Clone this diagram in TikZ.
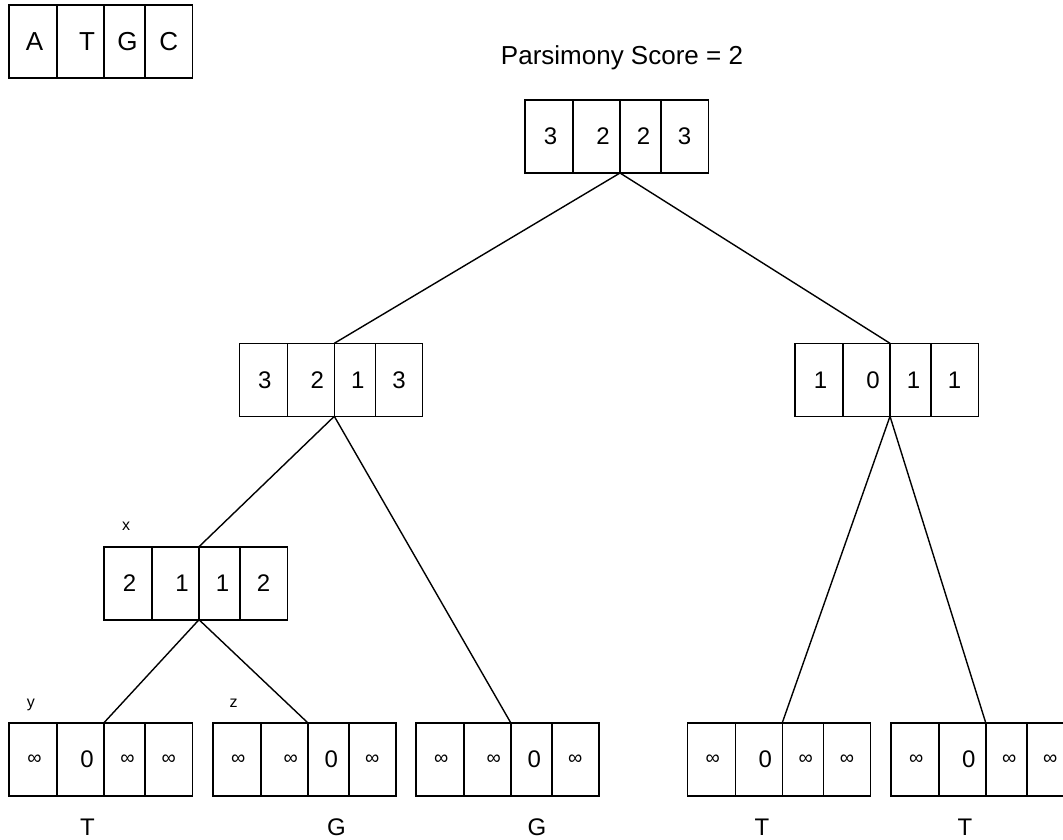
\documentclass[tikz,border=0pt]{standalone}
\usepackage{fontspec}
\setmainfont{Liberation Sans}
\newcommand\infsym{{\fontsize{20}{20}\selectfont ∞}}
\newcommand\bigtxt{\fontsize{26}{30}\selectfont}
\tikzset{
  cellbox/.style={draw, line width=1.6pt, minimum height=73pt, inner sep=0pt, outer sep=0pt, anchor=north west},
  cellnum/.style={font=\fontsize{24}{28}\selectfont, inner sep=0pt},
  conn/.style={line width=1.4pt},
  smalllbl/.style={font=\fontsize{16}{18}\selectfont, anchor=base, inner sep=0pt},
  leaflbl/.style={font=\fontsize{24}{28}\selectfont, anchor=base, inner sep=0pt}
}
% name, x, y, t1..t4
\newcommand\arr[7]{%
  \node[cellbox, minimum width=48pt, label={[cellnum,xshift=1.5pt]center:#4}] (#1-1) at (#2,#3) {};
  \node[cellbox, minimum width=47pt, label={[cellnum,xshift=6.5pt]center:#5}] (#1-2) at (#1-1.north east) {};
  \node[cellbox, minimum width=41pt, label={[cellnum,xshift=3pt]center:#6}] (#1-3) at (#1-2.north east) {};
  \node[cellbox, minimum width=47.3pt, label={[cellnum,xshift=0pt]center:#7}] (#1-4) at (#1-3.north east) {};
}
\begin{document}
\begin{tikzpicture}[x=1pt,y=-1pt]
\useasboundingbox (0,0) rectangle (1063,839);
% legend
\arr{lg}{9}{5}{\bigtxt A}{\bigtxt T}{\bigtxt G}{\bigtxt C}
\node[font=\bigtxt, anchor=base, inner sep=0pt] (title) at (622,64) {Parsimony Score = 2};
% tree
\arr{r}{525}{100}{3}{2}{2}{3}
\arr{ml}{239.3}{343.3}{3}{2}{1}{3}
\arr{mr}{795}{343.3}{1}{0}{1}{1}
\arr{x}{104}{546.7}{2}{1}{1}{2}
\arr{la}{9}{722.7}{\infsym}{0}{\infsym}{\infsym}
\arr{lb}{212.7}{722.7}{\infsym}{\infsym}{0}{\infsym}
\arr{lc}{415.7}{722.7}{\infsym}{\infsym}{0}{\infsym}
\arr{ld}{687.3}{722.7}{\infsym}{0}{\infsym}{\infsym}
\arr{le}{890.7}{722.7}{\infsym}{0}{\infsym}{\infsym}
% small labels
\node[smalllbl] (lx) at (126,530.7) {x};
\node[smalllbl] (ly) at (31,707) {y};
\node[smalllbl] (lz) at (233.5,707) {z};
% leaf labels
\node[leaflbl] (ta) at (87.5,835) {T};
\node[leaflbl] (tb) at (336.5,835) {G};
\node[leaflbl] (tc) at (537,835) {G};
\node[leaflbl] (td) at (762,835) {T};
\node[leaflbl] (te) at (965,835) {T};
% connectors
\draw[conn] (r-2.south east) -- (ml-2.north east);
\draw[conn] (r-2.south east) -- (mr-2.north east);
\draw[conn] (ml-2.south east) -- (x-2.north east);
\draw[conn] (ml-2.south east) -- (lc-2.north east);
\draw[conn] (x-2.south east) -- (la-2.north east);
\draw[conn] (x-2.south east) -- (lb-2.north east);
\draw[conn] (mr-2.south east) -- (ld-2.north east);
\draw[conn] (mr-2.south east) -- (le-2.north east);
\end{tikzpicture}
\end{document}
